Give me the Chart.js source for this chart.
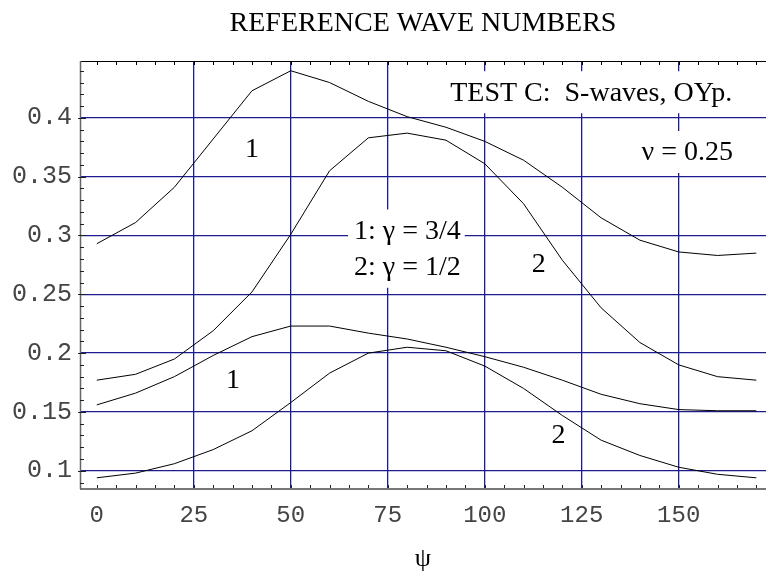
<!DOCTYPE html>
<html lang="en">
<head>
<meta charset="UTF-8">
<title>Reference wave numbers</title>
<script src="https://cdn.jsdelivr.net/npm/chart.js"></script>
<style>
  html, body { margin: 0; padding: 0; background: #fff; }
  canvas { display: block; }
</style>
</head>
<body>
<canvas id="waveChart" width="766" height="573"></canvas>
<script>
  // propagation angle psi (degrees)
  const psi = [0, 10, 20, 30, 40, 50, 60, 70, 80, 90, 100, 110, 120, 130, 140, 150, 160, 170];

  // upper branch, gamma = 3/4 (curve "1") and gamma = 1/2 (curve "2")
  const upperG34 = [0.293, 0.311, 0.341, 0.382, 0.423, 0.440, 0.430, 0.414, 0.401, 0.392, 0.380, 0.364, 0.341, 0.315, 0.296, 0.286, 0.283, 0.285];
  const upperG12 = [0.177, 0.182, 0.195, 0.219, 0.252, 0.301, 0.355, 0.383, 0.387, 0.381, 0.361, 0.327, 0.279, 0.2385, 0.209, 0.190, 0.180, 0.177];

  // lower branch
  const lowerG34 = [0.156, 0.166, 0.180, 0.198, 0.214, 0.223, 0.223, 0.217, 0.212, 0.205, 0.197, 0.188, 0.177, 0.165, 0.157, 0.152, 0.151, 0.151];
  const lowerG12 = [0.094, 0.098, 0.106, 0.118, 0.134, 0.158, 0.183, 0.200, 0.205, 0.202, 0.189, 0.170, 0.147, 0.126, 0.113, 0.103, 0.097, 0.094];

  const xTicks = [0, 25, 50, 75, 100, 125, 150];
  const yTicks = [0.1, 0.15, 0.2, 0.25, 0.3, 0.35, 0.4];
  const yTickLabels = ['0.1', '0.15', '0.2', '0.25', '0.3', '0.35', '0.4'];

  // text placed on the plot, anchored in data units
  const notes = [
    { lines: ['TEST C:  S-waves, OYp.'], at: [91.1, 0.4209], box: true },
    { lines: ['\u03bd = 0.25'], at: [140.4, 0.3701], box: true },
    { lines: ['1: \u03b3 = 3/4', '2: \u03b3 = 1/2'], at: [66.3, 0.3034], box: true },
    { lines: ['1'], at: [38.2, 0.3726] },
    { lines: ['2'], at: [112.1, 0.2752] },
    { lines: ['1'], at: [33.3, 0.1769] },
    { lines: ['2'], at: [117.2, 0.1297] }
  ];

  const gridBlue = '#1c1c8e';
  const serif = '"Liberation Serif", "Times New Roman", serif';
  const mono = '"Liberation Mono", "Courier New", monospace';

  function series(values) {
    return {
      data: psi.map((p, i) => ({ x: p, y: values[i] })),
      showLine: true,
      borderColor: '#000',
      borderWidth: 1,
      pointRadius: 0,
      tension: 0
    };
  }

  // boxed labels go under the curves, frame and small ticks on top
  const decor = {
    id: 'decor',
    beforeDatasetsDraw(chart) {
      const { ctx, scales: { x, y } } = chart;
      ctx.save();
      ctx.font = '28px ' + serif;
      ctx.textBaseline = 'middle';
      ctx.textAlign = 'left';
      const lineGap = 36.3;
      notes.forEach(n => {
        const px = x.getPixelForValue(n.at[0]);
        const py = y.getPixelForValue(n.at[1]);
        if (n.box) {
          const w = Math.max(...n.lines.map(t => ctx.measureText(t).width));
          ctx.fillStyle = '#fff';
          ctx.fillRect(px - 6, py - 22, w + 10, lineGap * (n.lines.length - 1) + 42);
        }
        ctx.fillStyle = '#000';
        n.lines.forEach((t, i) => ctx.fillText(t, px, py + i * lineGap));
      });
      ctx.restore();
    },
    afterDraw(chart) {
      const { ctx, chartArea: a, scales: { x, y } } = chart;
      ctx.save();
      // top frame
      ctx.strokeStyle = '#000';
      ctx.lineWidth = 1;
      ctx.beginPath();
      ctx.moveTo(a.left, a.top + 0.5);
      ctx.lineTo(a.right, a.top + 0.5);
      for (let v = 0; v <= 170; v += 5) {
        const px = Math.round(x.getPixelForValue(v)) + 0.5;
        ctx.moveTo(px, a.top);
        ctx.lineTo(px, a.top + 4);
      }
      ctx.stroke();
      // bottom axis
      ctx.strokeStyle = '#777';
      ctx.lineWidth = 2;
      ctx.beginPath();
      ctx.moveTo(a.left, a.bottom);
      ctx.lineTo(a.right, a.bottom);
      ctx.stroke();
      ctx.lineWidth = 1;
      ctx.strokeStyle = '#222';
      ctx.beginPath();
      for (let v = 0; v <= 170; v += 5) {
        const px = Math.round(x.getPixelForValue(v)) + 0.5;
        ctx.moveTo(px, a.bottom - 1);
        ctx.lineTo(px, a.bottom - 4);
      }
      ctx.stroke();
      // left axis
      ctx.strokeStyle = '#666';
      ctx.lineWidth = 1.5;
      ctx.beginPath();
      ctx.moveTo(a.left + 0.5, a.top);
      ctx.lineTo(a.left + 0.5, a.bottom);
      ctx.stroke();
      ctx.strokeStyle = '#222';
      ctx.lineWidth = 1;
      ctx.beginPath();
      for (let k = 9; k <= 44; k++) {
        const py = Math.round(y.getPixelForValue(k / 100)) + 0.5;
        const major = k % 5 === 0;
        ctx.moveTo(a.left - (major ? 2 : 0), py);
        ctx.lineTo(a.left + (major ? 6 : 4), py);
      }
      ctx.stroke();
      ctx.restore();
    }
  };

  new Chart(document.getElementById('waveChart'), {
    type: 'scatter',
    data: {
      datasets: [series(upperG34), series(upperG12), series(lowerG34), series(lowerG12)]
    },
    options: {
      responsive: false,
      animation: false,
      devicePixelRatio: 1,
      layout: { padding: 0 },
      plugins: {
        legend: { display: false },
        tooltip: { enabled: false },
        title: {
          display: true,
          fullSize: false,
          text: 'REFERENCE WAVE NUMBERS',
          color: '#000',
          font: { family: serif, size: 28, weight: 'normal', lineHeight: 1.2 },
          padding: { top: 7, bottom: 20.4 }
        }
      },
      scales: {
        x: {
          type: 'linear',
          min: -4.33,
          max: 172.5,
          afterBuildTicks: s => { s.ticks = xTicks.map(v => ({ value: v })); },
          afterFit: s => { s.height = 84; },
          grid: {
            color: c => (c.tick && c.tick.value === 0 ? 'rgba(0,0,0,0)' : gridBlue),
            lineWidth: 1.3,
            drawTicks: false
          },
          border: { display: false },
          ticks: {
            autoSkip: false,
            maxRotation: 0,
            padding: 12,
            color: '#444',
            font: { family: mono, size: 24 },
            callback: v => String(v)
          },
          title: {
            display: true,
            text: '\u03c8',
            color: '#000',
            font: { family: serif, size: 26, lineHeight: 1 },
            padding: { top: 0, bottom: 1 }
          }
        },
        y: {
          type: 'linear',
          min: 0.0845,
          max: 0.4483,
          afterBuildTicks: s => { s.ticks = yTicks.map(v => ({ value: v })); },
          afterFit: s => { s.width = 80; },
          grid: {
            color: gridBlue,
            lineWidth: 1.3,
            drawTicks: false
          },
          border: { display: false },
          ticks: {
            autoSkip: false,
            padding: 8,
            color: '#444',
            font: { family: mono, size: 25 },
            callback: (v, i) => yTickLabels[i]
          }
        }
      }
    },
    plugins: [decor]
  });
</script>
</body>
</html>
